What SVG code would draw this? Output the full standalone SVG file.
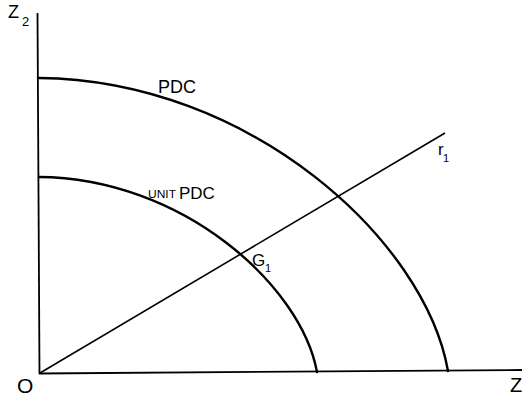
<svg xmlns="http://www.w3.org/2000/svg" width="524" height="398" viewBox="0 0 524 398">
<style>
  .ax{fill:none;stroke:#000;stroke-width:1.8;stroke-linecap:butt}
  .cv{fill:none;stroke:#000;stroke-width:2.4;stroke-linecap:round}
  .ray{fill:none;stroke:#000;stroke-width:1.6}
  text{font-family:"Liberation Sans","DejaVu Sans",sans-serif;fill:#000}
</style>
<rect width="524" height="398" fill="#fff"/>
<g id="axes">
  <line class="ax" x1="37.5" y1="13" x2="39.5" y2="374"/>
  <line class="ax" x1="39" y1="373.5" x2="522" y2="370"/>
</g>
<g id="connectors">
  <path id="pdc" class="cv" d="M39,78 C250,80 425,240 448,371"/>
  <path id="unitpdc" class="cv" d="M39,177 C182,178 301,285 317,372"/>
  <line id="r1" class="ray" x1="40" y1="373" x2="445" y2="133"/>
</g>
<g id="labels">
  <text x="8" y="18" font-size="18">Z</text>
  <text x="22" y="26" font-size="13">2</text>
  <text x="158" y="93" font-size="18">PDC</text>
  <text x="148" y="198" font-size="11" textLength="28" lengthAdjust="spacingAndGlyphs">UNIT</text>
  <text x="179" y="199" font-size="17">PDC</text>
  <text x="252" y="266" font-size="17">G</text>
  <text x="265" y="272" font-size="11">1</text>
  <text x="438" y="155" font-size="17">r</text>
  <text x="443" y="162" font-size="11">1</text>
  <text x="17" y="393" font-size="21">O</text>
  <text x="510" y="392" font-size="20">Z</text>
</g>
</svg>
